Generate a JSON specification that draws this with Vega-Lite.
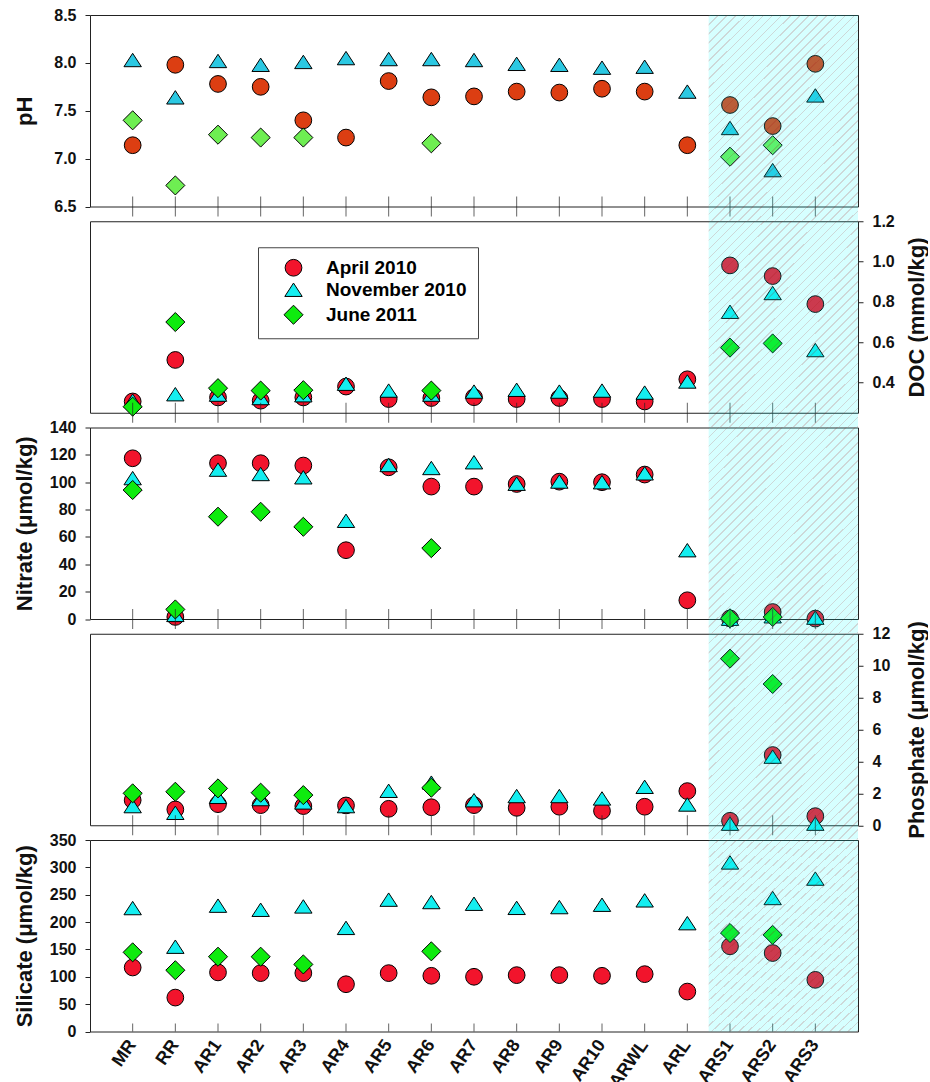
{
  "$schema": "https://vega.github.io/schema/vega-lite/v6.json",
  "padding": {"left": 12, "top": 6, "right": 0, "bottom": 0},
  "background": "white",
  "spacing": 14.25,
  "bounds": "flush",
  "datasets": {
    "sites": [
      {"site": "MR"}, {"site": "RR"}, {"site": "AR1"}, {"site": "AR2"}, {"site": "AR3"}, {"site": "AR4"}, {"site": "AR5"}, {"site": "AR6"}, {"site": "AR7"}, {"site": "AR8"}, {"site": "AR9"}, {"site": "AR10"}, {"site": "ARWL"}, {"site": "ARL"}, {"site": "ARS1"}, {"site": "ARS2"}, {"site": "ARS3"}
    ],
    "obs": [
      {"site": "MR", "campaign": "April 2010", "pH": 7.14, "DOC": 0.306, "nitrate": 117.5, "phosphate": 1.57, "silicate": 117},
      {"site": "RR", "campaign": "April 2010", "pH": 7.98, "DOC": 0.512, "nitrate": 1.5, "phosphate": 0.99, "silicate": 62},
      {"site": "AR1", "campaign": "April 2010", "pH": 7.78, "DOC": 0.326, "nitrate": 113.9, "phosphate": 1.32, "silicate": 108},
      {"site": "AR2", "campaign": "April 2010", "pH": 7.75, "DOC": 0.31, "nitrate": 113.9, "phosphate": 1.26, "silicate": 106.7},
      {"site": "AR3", "campaign": "April 2010", "pH": 7.4, "DOC": 0.326, "nitrate": 112.2, "phosphate": 1.2, "silicate": 106.7},
      {"site": "AR4", "campaign": "April 2010", "pH": 7.22, "DOC": 0.38, "nitrate": 50.3, "phosphate": 1.24, "silicate": 86.4},
      {"site": "AR5", "campaign": "April 2010", "pH": 7.81, "DOC": 0.318, "nitrate": 110.9, "phosphate": 1.03, "silicate": 106.7},
      {"site": "AR6", "campaign": "April 2010", "pH": 7.64, "DOC": 0.323, "nitrate": 96.8, "phosphate": 1.13, "silicate": 101.8},
      {"site": "AR7", "campaign": "April 2010", "pH": 7.65, "DOC": 0.327, "nitrate": 96.8, "phosphate": 1.26, "silicate": 100},
      {"site": "AR8", "campaign": "April 2010", "pH": 7.7, "DOC": 0.318, "nitrate": 98.7, "phosphate": 1.09, "silicate": 103},
      {"site": "AR9", "campaign": "April 2010", "pH": 7.69, "DOC": 0.323, "nitrate": 100.4, "phosphate": 1.16, "silicate": 103},
      {"site": "AR10", "campaign": "April 2010", "pH": 7.73, "DOC": 0.318, "nitrate": 100, "phosphate": 0.9, "silicate": 101.8},
      {"site": "ARWL", "campaign": "April 2010", "pH": 7.7, "DOC": 0.306, "nitrate": 105.6, "phosphate": 1.16, "silicate": 104.8},
      {"site": "ARL", "campaign": "April 2010", "pH": 7.14, "DOC": 0.416, "nitrate": 13.7, "phosphate": 2.14, "silicate": 73},
      {"site": "ARS1", "campaign": "April 2010", "pH": 7.56, "DOC": 0.981, "nitrate": 0.4, "phosphate": 0.28, "silicate": 155.7},
      {"site": "ARS2", "campaign": "April 2010", "pH": 7.34, "DOC": 0.928, "nitrate": 5.1, "phosphate": 4.4, "silicate": 143.4},
      {"site": "ARS3", "campaign": "April 2010", "pH": 7.99, "DOC": 0.789, "nitrate": 0.3, "phosphate": 0.57, "silicate": 94.4},
      {"site": "MR", "campaign": "November 2010", "pH": 8.03, "DOC": 0.31, "nitrate": 103, "phosphate": 1.2, "silicate": 225.6},
      {"site": "RR", "campaign": "November 2010", "pH": 7.64, "DOC": 0.342, "nitrate": 3, "phosphate": 0.78, "silicate": 155},
      {"site": "AR1", "campaign": "November 2010", "pH": 8.02, "DOC": 0.34, "nitrate": 109.2, "phosphate": 1.78, "silicate": 230},
      {"site": "AR2", "campaign": "November 2010", "pH": 7.98, "DOC": 0.323, "nitrate": 106, "phosphate": 1.64, "silicate": 222.5},
      {"site": "AR3", "campaign": "November 2010", "pH": 8.01, "DOC": 0.337, "nitrate": 103.6, "phosphate": 1.43, "silicate": 228.6},
      {"site": "AR4", "campaign": "November 2010", "pH": 8.05, "DOC": 0.394, "nitrate": 71.8, "phosphate": 1.2, "silicate": 189.4},
      {"site": "AR5", "campaign": "November 2010", "pH": 8.04, "DOC": 0.36, "nitrate": 112.6, "phosphate": 2.16, "silicate": 241},
      {"site": "AR6", "campaign": "November 2010", "pH": 8.04, "DOC": 0.34, "nitrate": 110.4, "phosphate": 2.67, "silicate": 236.6},
      {"site": "AR7", "campaign": "November 2010", "pH": 8.03, "DOC": 0.355, "nitrate": 114.6, "phosphate": 1.57, "silicate": 233.5},
      {"site": "AR8", "campaign": "November 2010", "pH": 7.99, "DOC": 0.364, "nitrate": 98.9, "phosphate": 1.83, "silicate": 226},
      {"site": "AR9", "campaign": "November 2010", "pH": 7.98, "DOC": 0.355, "nitrate": 100.5, "phosphate": 1.83, "silicate": 227.4},
      {"site": "AR10", "campaign": "November 2010", "pH": 7.95, "DOC": 0.36, "nitrate": 100, "phosphate": 1.68, "silicate": 231.7},
      {"site": "ARWL", "campaign": "November 2010", "pH": 7.96, "DOC": 0.35, "nitrate": 106.5, "phosphate": 2.41, "silicate": 239.7},
      {"site": "ARL", "campaign": "November 2010", "pH": 7.7, "DOC": 0.405, "nitrate": 50.3, "phosphate": 1.3, "silicate": 198},
      {"site": "ARS1", "campaign": "November 2010", "pH": 7.32, "DOC": 0.751, "nitrate": 0.2, "phosphate": 0.1, "silicate": 309},
      {"site": "ARS2", "campaign": "November 2010", "pH": 6.88, "DOC": 0.844, "nitrate": 2, "phosphate": 4.3, "silicate": 244},
      {"site": "ARS3", "campaign": "November 2010", "pH": 7.66, "DOC": 0.561, "nitrate": 1, "phosphate": 0.1, "silicate": 279.5},
      {"site": "MR", "campaign": "June 2011", "pH": 7.4, "DOC": 0.28, "nitrate": 94.3, "phosphate": 2.0, "silicate": 144.7},
      {"site": "RR", "campaign": "June 2011", "pH": 6.72, "DOC": 0.7, "nitrate": 7, "phosphate": 2.1, "silicate": 112},
      {"site": "AR1", "campaign": "June 2011", "pH": 7.25, "DOC": 0.372, "nitrate": 74.8, "phosphate": 2.31, "silicate": 136.7},
      {"site": "AR2", "campaign": "June 2011", "pH": 7.22, "DOC": 0.36, "nitrate": 78.4, "phosphate": 2.04, "silicate": 136.7},
      {"site": "AR3", "campaign": "June 2011", "pH": 7.22, "DOC": 0.362, "nitrate": 67.4, "phosphate": 1.89, "silicate": 122.6},
      {"site": "AR6", "campaign": "June 2011", "pH": 7.16, "DOC": 0.36, "nitrate": 51.8, "phosphate": 2.35, "silicate": 146.5},
      {"site": "ARS1", "campaign": "June 2011", "pH": 7.02, "DOC": 0.573, "nitrate": 0.5, "phosphate": 10.44, "silicate": 180},
      {"site": "ARS2", "campaign": "June 2011", "pH": 7.14, "DOC": 0.594, "nitrate": 1.5, "phosphate": 8.85, "silicate": 176.5}
    ]
  },
  "vconcat": [
    {
      "width": 768, "height": 191.5,
      "layer": [
        {"data": {"name": "obs"},
         "transform": [{"filter": "isValid(datum.pH)"}],
         "mark": {"type": "point", "filled": true, "stroke": "black", "strokeWidth": 1, "opacity": 1, "size": 280},
         "encoding": {
           "x": {"field": "site", "type": "nominal", "scale": {"type": "band", "domain": ["MR","RR","AR1","AR2","AR3","AR4","AR5","AR6","AR7","AR8","AR9","AR10","ARWL","ARL","ARS1","ARS2","ARS3"], "paddingInner": 0, "paddingOuter": 0.5}, "axis": null},
           "y": {"field": "pH", "type": "quantitative", "scale": {"domain": [6.5, 8.5], "nice": false, "zero": false},
                 "axis": {"orient": "left", "values": [6.5, 7, 7.5, 8, 8.5], "format": ".1f", "labelOverlap": false, "title": "pH", "titleX": -66, "titleY": 95.75, "titleAngle": -90, "titleAlign": "center", "titleBaseline": "middle", "labelPadding": 9, "domain": false}},
           "color": {"field": "campaign", "type": "nominal", "scale": {"domain": ["April 2010", "November 2010", "June 2011"], "range": ["#DC3E12", "#2BC8E2", "#6EEE52"]}, "legend": null},
           "shape": {"field": "campaign", "type": "nominal", "scale": {"domain": ["April 2010", "November 2010", "June 2011"], "range": ["circle", "M0,-0.8L1.04,0.8L-1.04,0.8Z", "M0,-1.14L1.14,0L0,1.14L-1.14,0Z"]}, "legend": null}
         }},
        {"data": {"name": "sites"},
         "mark": {"type": "tick", "orient": "vertical", "size": 20, "thickness": 1, "color": "#222"},
         "encoding": {
           "x": {"field": "site", "type": "nominal", "scale": {"type": "band", "domain": ["MR","RR","AR1","AR2","AR3","AR4","AR5","AR6","AR7","AR8","AR9","AR10","ARWL","ARL","ARS1","ARS2","ARS3"], "paddingInner": 0, "paddingOuter": 0.5}, "axis": null},
           "y": {"datum": 6.5, "type": "quantitative",
                 "axis": {"orient": "left", "values": [6.5, 7, 7.5, 8, 8.5], "format": ".1f", "labelOverlap": false, "title": "pH", "titleX": -66, "titleY": 95.75, "titleAngle": -90, "titleAlign": "center", "titleBaseline": "middle", "labelPadding": 9, "domain": false}}}},
        {"data": {"values": [{"start": "ARS1"}]},
         "mark": {"type": "rect", "y2Offset": 14.25},
         "encoding": {
           "x": {"field": "start", "type": "nominal", "bandPosition": 0, "scale": {"type": "band", "domain": ["MR","RR","AR1","AR2","AR3","AR4","AR5","AR6","AR7","AR8","AR9","AR10","ARWL","ARL","ARS1","ARS2","ARS3"], "paddingInner": 0, "paddingOuter": 0.5}, "axis": null},
           "x2": {"value": "width"},
           "y": {"value": 0}, "y2": {"value": "height"}}}
      ]
    },
    {
      "width": 768, "height": 191.5,
      "layer": [
        {"data": {"name": "obs"},
         "transform": [{"filter": "isValid(datum.DOC)"}],
         "mark": {"type": "point", "filled": true, "stroke": "black", "strokeWidth": 1, "opacity": 1, "size": 280},
         "encoding": {
           "x": {"field": "site", "type": "nominal", "scale": {"type": "band", "domain": ["MR","RR","AR1","AR2","AR3","AR4","AR5","AR6","AR7","AR8","AR9","AR10","ARWL","ARL","ARS1","ARS2","ARS3"], "paddingInner": 0, "paddingOuter": 0.5}, "axis": null},
           "y": {"field": "DOC", "type": "quantitative", "scale": {"domain": [0.25, 1.2], "nice": false, "zero": false},
                 "axis": {"orient": "right", "values": [0.4, 0.6, 0.8, 1.0, 1.2], "format": ".1f", "labelOverlap": false, "title": "DOC (mmol/kg)", "titleX": 58, "titleY": 95.75, "titleAngle": -90, "titleAlign": "center", "titleBaseline": "middle", "labelPadding": 9, "domain": false}},
           "color": {"field": "campaign", "type": "nominal", "scale": {"domain": ["April 2010", "November 2010", "June 2011"], "range": ["#F2142C", "#14EEF0", "#0EEB0E"]},
                     "legend": {"orient": "none", "legendX": 168, "legendY": 26, "title": null, "padding": 11, "symbolOffset": 15, "labelOffset": 23, "rowPadding": 2, "symbolSize": 280, "symbolStrokeColor": "black", "symbolStrokeWidth": 1, "labelFont": "Liberation Sans", "labelFontSize": 19, "labelFontWeight": "bold", "labelColor": "black", "strokeColor": "#444", "fillColor": "white"}},
           "shape": {"field": "campaign", "type": "nominal", "scale": {"domain": ["April 2010", "November 2010", "June 2011"], "range": ["circle", "M0,-0.8L1.04,0.8L-1.04,0.8Z", "M0,-1.14L1.14,0L0,1.14L-1.14,0Z"]}}
         }},
        {"data": {"name": "sites"},
         "mark": {"type": "tick", "orient": "vertical", "size": 20, "thickness": 1, "color": "#222"},
         "encoding": {
           "x": {"field": "site", "type": "nominal", "scale": {"type": "band", "domain": ["MR","RR","AR1","AR2","AR3","AR4","AR5","AR6","AR7","AR8","AR9","AR10","ARWL","ARL","ARS1","ARS2","ARS3"], "paddingInner": 0, "paddingOuter": 0.5}, "axis": null},
           "y": {"datum": 0.25, "type": "quantitative",
                 "axis": {"orient": "right", "values": [0.4, 0.6, 0.8, 1.0, 1.2], "format": ".1f", "labelOverlap": false, "title": "DOC (mmol/kg)", "titleX": 58, "titleY": 95.75, "titleAngle": -90, "titleAlign": "center", "titleBaseline": "middle", "labelPadding": 9, "domain": false}}}},
        {"data": {"values": [{"start": "ARS1"}]},
         "mark": {"type": "rect", "y2Offset": 14.25},
         "encoding": {
           "x": {"field": "start", "type": "nominal", "bandPosition": 0, "scale": {"type": "band", "domain": ["MR","RR","AR1","AR2","AR3","AR4","AR5","AR6","AR7","AR8","AR9","AR10","ARWL","ARL","ARS1","ARS2","ARS3"], "paddingInner": 0, "paddingOuter": 0.5}, "axis": null},
           "x2": {"value": "width"},
           "y": {"value": 0}, "y2": {"value": "height"}}}
      ]
    },
    {
      "width": 768, "height": 191.5,
      "layer": [
        {"data": {"name": "obs"},
         "transform": [{"filter": "isValid(datum.nitrate)"}],
         "mark": {"type": "point", "filled": true, "stroke": "black", "strokeWidth": 1, "opacity": 1, "size": 280},
         "encoding": {
           "x": {"field": "site", "type": "nominal", "scale": {"type": "band", "domain": ["MR","RR","AR1","AR2","AR3","AR4","AR5","AR6","AR7","AR8","AR9","AR10","ARWL","ARL","ARS1","ARS2","ARS3"], "paddingInner": 0, "paddingOuter": 0.5}, "axis": null},
           "y": {"field": "nitrate", "type": "quantitative", "scale": {"domain": [0, 140], "nice": false, "zero": false},
                 "axis": {"orient": "left", "values": [0, 20, 40, 60, 80, 100, 120, 140], "labelOverlap": false, "title": "Nitrate (μmol/kg)", "titleX": -66, "titleY": 95.75, "titleAngle": -90, "titleAlign": "center", "titleBaseline": "middle", "labelPadding": 9, "domain": false}},
           "color": {"field": "campaign", "type": "nominal", "scale": {"domain": ["April 2010", "November 2010", "June 2011"], "range": ["#F2142C", "#14EEF0", "#0EEB0E"]}, "legend": null},
           "shape": {"field": "campaign", "type": "nominal", "scale": {"domain": ["April 2010", "November 2010", "June 2011"], "range": ["circle", "M0,-0.8L1.04,0.8L-1.04,0.8Z", "M0,-1.14L1.14,0L0,1.14L-1.14,0Z"]}, "legend": null}
         }},
        {"data": {"name": "sites"},
         "mark": {"type": "tick", "orient": "vertical", "size": 20, "thickness": 1, "color": "#222"},
         "encoding": {
           "x": {"field": "site", "type": "nominal", "scale": {"type": "band", "domain": ["MR","RR","AR1","AR2","AR3","AR4","AR5","AR6","AR7","AR8","AR9","AR10","ARWL","ARL","ARS1","ARS2","ARS3"], "paddingInner": 0, "paddingOuter": 0.5}, "axis": null},
           "y": {"datum": 0, "type": "quantitative",
                 "axis": {"orient": "left", "values": [0, 20, 40, 60, 80, 100, 120, 140], "labelOverlap": false, "title": "Nitrate (μmol/kg)", "titleX": -66, "titleY": 95.75, "titleAngle": -90, "titleAlign": "center", "titleBaseline": "middle", "labelPadding": 9, "domain": false}}}},
        {"data": {"values": [{"start": "ARS1"}]},
         "mark": {"type": "rect", "y2Offset": 14.25},
         "encoding": {
           "x": {"field": "start", "type": "nominal", "bandPosition": 0, "scale": {"type": "band", "domain": ["MR","RR","AR1","AR2","AR3","AR4","AR5","AR6","AR7","AR8","AR9","AR10","ARWL","ARL","ARS1","ARS2","ARS3"], "paddingInner": 0, "paddingOuter": 0.5}, "axis": null},
           "x2": {"value": "width"},
           "y": {"value": 0}, "y2": {"value": "height"}}}
      ]
    },
    {
      "width": 768, "height": 191.5,
      "layer": [
        {"data": {"name": "obs"},
         "transform": [{"filter": "isValid(datum.phosphate)"}],
         "mark": {"type": "point", "filled": true, "stroke": "black", "strokeWidth": 1, "opacity": 1, "size": 280},
         "encoding": {
           "x": {"field": "site", "type": "nominal", "scale": {"type": "band", "domain": ["MR","RR","AR1","AR2","AR3","AR4","AR5","AR6","AR7","AR8","AR9","AR10","ARWL","ARL","ARS1","ARS2","ARS3"], "paddingInner": 0, "paddingOuter": 0.5}, "axis": null},
           "y": {"field": "phosphate", "type": "quantitative", "scale": {"domain": [0, 12], "nice": false, "zero": false},
                 "axis": {"orient": "right", "values": [0, 2, 4, 6, 8, 10, 12], "labelOverlap": false, "title": "Phosphate (μmol/kg)", "titleX": 58, "titleY": 95.75, "titleAngle": -90, "titleAlign": "center", "titleBaseline": "middle", "labelPadding": 9, "domain": false}},
           "color": {"field": "campaign", "type": "nominal", "scale": {"domain": ["April 2010", "November 2010", "June 2011"], "range": ["#F2142C", "#14EEF0", "#0EEB0E"]}, "legend": null},
           "shape": {"field": "campaign", "type": "nominal", "scale": {"domain": ["April 2010", "November 2010", "June 2011"], "range": ["circle", "M0,-0.8L1.04,0.8L-1.04,0.8Z", "M0,-1.14L1.14,0L0,1.14L-1.14,0Z"]}, "legend": null}
         }},
        {"data": {"name": "sites"},
         "mark": {"type": "tick", "orient": "vertical", "size": 20, "thickness": 1, "color": "#222"},
         "encoding": {
           "x": {"field": "site", "type": "nominal", "scale": {"type": "band", "domain": ["MR","RR","AR1","AR2","AR3","AR4","AR5","AR6","AR7","AR8","AR9","AR10","ARWL","ARL","ARS1","ARS2","ARS3"], "paddingInner": 0, "paddingOuter": 0.5}, "axis": null},
           "y": {"datum": 0, "type": "quantitative",
                 "axis": {"orient": "right", "values": [0, 2, 4, 6, 8, 10, 12], "labelOverlap": false, "title": "Phosphate (μmol/kg)", "titleX": 58, "titleY": 95.75, "titleAngle": -90, "titleAlign": "center", "titleBaseline": "middle", "labelPadding": 9, "domain": false}}}},
        {"data": {"values": [{"start": "ARS1"}]},
         "mark": {"type": "rect", "y2Offset": 14.25},
         "encoding": {
           "x": {"field": "start", "type": "nominal", "bandPosition": 0, "scale": {"type": "band", "domain": ["MR","RR","AR1","AR2","AR3","AR4","AR5","AR6","AR7","AR8","AR9","AR10","ARWL","ARL","ARS1","ARS2","ARS3"], "paddingInner": 0, "paddingOuter": 0.5}, "axis": null},
           "x2": {"value": "width"},
           "y": {"value": 0}, "y2": {"value": "height"}}}
      ]
    },
    {
      "width": 768, "height": 191.5,
      "layer": [
        {"data": {"name": "obs"},
         "transform": [{"filter": "isValid(datum.silicate)"}],
         "mark": {"type": "point", "filled": true, "stroke": "black", "strokeWidth": 1, "opacity": 1, "size": 280},
         "encoding": {
           "x": {"field": "site", "type": "nominal", "scale": {"type": "band", "domain": ["MR","RR","AR1","AR2","AR3","AR4","AR5","AR6","AR7","AR8","AR9","AR10","ARWL","ARL","ARS1","ARS2","ARS3"], "paddingInner": 0, "paddingOuter": 0.5},
                 "axis": {"title": null, "labelAngle": -55, "labelFontSize": 18, "ticks": false, "domain": false, "labelPadding": 10}},
           "y": {"field": "silicate", "type": "quantitative", "scale": {"domain": [0, 350], "nice": false, "zero": false},
                 "axis": {"orient": "left", "values": [0, 50, 100, 150, 200, 250, 300, 350], "labelOverlap": false, "title": "Silicate (μmol/kg)", "titleX": -66, "titleY": 95.75, "titleAngle": -90, "titleAlign": "center", "titleBaseline": "middle", "labelPadding": 9, "domain": false}},
           "color": {"field": "campaign", "type": "nominal", "scale": {"domain": ["April 2010", "November 2010", "June 2011"], "range": ["#F2142C", "#14EEF0", "#0EEB0E"]}, "legend": null},
           "shape": {"field": "campaign", "type": "nominal", "scale": {"domain": ["April 2010", "November 2010", "June 2011"], "range": ["circle", "M0,-0.8L1.04,0.8L-1.04,0.8Z", "M0,-1.14L1.14,0L0,1.14L-1.14,0Z"]}, "legend": null}
         }},
        {"data": {"name": "sites"},
         "mark": {"type": "tick", "orient": "vertical", "size": 8, "thickness": 1, "color": "#222", "yOffset": -4},
         "encoding": {
           "x": {"field": "site", "type": "nominal", "scale": {"type": "band", "domain": ["MR","RR","AR1","AR2","AR3","AR4","AR5","AR6","AR7","AR8","AR9","AR10","ARWL","ARL","ARS1","ARS2","ARS3"], "paddingInner": 0, "paddingOuter": 0.5},
                 "axis": {"title": null, "labelAngle": -55, "labelFontSize": 18, "ticks": false, "domain": false, "labelPadding": 10}},
           "y": {"datum": 0, "type": "quantitative",
                 "axis": {"orient": "left", "values": [0, 50, 100, 150, 200, 250, 300, 350], "labelOverlap": false, "title": "Silicate (μmol/kg)", "titleX": -66, "titleY": 95.75, "titleAngle": -90, "titleAlign": "center", "titleBaseline": "middle", "labelPadding": 9, "domain": false}}}},
        {"data": {"values": [{"start": "ARS1"}]},
         "mark": {"type": "rect"},
         "encoding": {
           "x": {"field": "start", "type": "nominal", "bandPosition": 0, "scale": {"type": "band", "domain": ["MR","RR","AR1","AR2","AR3","AR4","AR5","AR6","AR7","AR8","AR9","AR10","ARWL","ARL","ARS1","ARS2","ARS3"], "paddingInner": 0, "paddingOuter": 0.5},
                 "axis": {"title": null, "labelAngle": -55, "labelFontSize": 18, "ticks": false, "domain": false, "labelPadding": 10}},
           "x2": {"value": "width"},
           "y": {"value": 0}, "y2": {"value": "height"}}}
      ]
    }
  ],
  "resolve": {"scale": {"y": "independent", "color": "independent", "shape": "independent"}, "axis": {"y": "independent"}, "legend": {"color": "independent", "shape": "independent"}},
  "config": {
    "font": "Liberation Sans",
    "view": {"stroke": "#222", "strokeWidth": 1},
    "rect": {"opacity": 1, "fill": {"gradient": "linear", "x1": 0, "y1": 0, "x2": 1, "y2": 1.387, "stops": [
      {"offset": 0, "color": "rgba(90,125,125,0.3)"}, {"offset": 0.0035, "color": "rgba(90,125,125,0.3)"}, {"offset": 0.0035, "color": "rgba(0,255,255,0.16)"}, {"offset": 0.0208, "color": "rgba(0,255,255,0.16)"},
      {"offset": 0.0208, "color": "rgba(90,125,125,0.3)"}, {"offset": 0.0243, "color": "rgba(90,125,125,0.3)"}, {"offset": 0.0243, "color": "rgba(0,255,255,0.16)"}, {"offset": 0.0417, "color": "rgba(0,255,255,0.16)"},
      {"offset": 0.0417, "color": "rgba(90,125,125,0.3)"}, {"offset": 0.0452, "color": "rgba(90,125,125,0.3)"}, {"offset": 0.0452, "color": "rgba(0,255,255,0.16)"}, {"offset": 0.0625, "color": "rgba(0,255,255,0.16)"},
      {"offset": 0.0625, "color": "rgba(90,125,125,0.3)"}, {"offset": 0.066, "color": "rgba(90,125,125,0.3)"}, {"offset": 0.066, "color": "rgba(0,255,255,0.16)"}, {"offset": 0.0833, "color": "rgba(0,255,255,0.16)"},
      {"offset": 0.0833, "color": "rgba(90,125,125,0.3)"}, {"offset": 0.0868, "color": "rgba(90,125,125,0.3)"}, {"offset": 0.0868, "color": "rgba(0,255,255,0.16)"}, {"offset": 0.1042, "color": "rgba(0,255,255,0.16)"},
      {"offset": 0.1042, "color": "rgba(90,125,125,0.3)"}, {"offset": 0.1077, "color": "rgba(90,125,125,0.3)"}, {"offset": 0.1077, "color": "rgba(0,255,255,0.16)"}, {"offset": 0.125, "color": "rgba(0,255,255,0.16)"},
      {"offset": 0.125, "color": "rgba(90,125,125,0.3)"}, {"offset": 0.1285, "color": "rgba(90,125,125,0.3)"}, {"offset": 0.1285, "color": "rgba(0,255,255,0.16)"}, {"offset": 0.1458, "color": "rgba(0,255,255,0.16)"},
      {"offset": 0.1458, "color": "rgba(90,125,125,0.3)"}, {"offset": 0.1493, "color": "rgba(90,125,125,0.3)"}, {"offset": 0.1493, "color": "rgba(0,255,255,0.16)"}, {"offset": 0.1667, "color": "rgba(0,255,255,0.16)"},
      {"offset": 0.1667, "color": "rgba(90,125,125,0.3)"}, {"offset": 0.1702, "color": "rgba(90,125,125,0.3)"}, {"offset": 0.1702, "color": "rgba(0,255,255,0.16)"}, {"offset": 0.1875, "color": "rgba(0,255,255,0.16)"},
      {"offset": 0.1875, "color": "rgba(90,125,125,0.3)"}, {"offset": 0.191, "color": "rgba(90,125,125,0.3)"}, {"offset": 0.191, "color": "rgba(0,255,255,0.16)"}, {"offset": 0.2083, "color": "rgba(0,255,255,0.16)"},
      {"offset": 0.2083, "color": "rgba(90,125,125,0.3)"}, {"offset": 0.2118, "color": "rgba(90,125,125,0.3)"}, {"offset": 0.2118, "color": "rgba(0,255,255,0.16)"}, {"offset": 0.2292, "color": "rgba(0,255,255,0.16)"},
      {"offset": 0.2292, "color": "rgba(90,125,125,0.3)"}, {"offset": 0.2327, "color": "rgba(90,125,125,0.3)"}, {"offset": 0.2327, "color": "rgba(0,255,255,0.16)"}, {"offset": 0.25, "color": "rgba(0,255,255,0.16)"},
      {"offset": 0.25, "color": "rgba(90,125,125,0.3)"}, {"offset": 0.2535, "color": "rgba(90,125,125,0.3)"}, {"offset": 0.2535, "color": "rgba(0,255,255,0.16)"}, {"offset": 0.2708, "color": "rgba(0,255,255,0.16)"},
      {"offset": 0.2708, "color": "rgba(90,125,125,0.3)"}, {"offset": 0.2743, "color": "rgba(90,125,125,0.3)"}, {"offset": 0.2743, "color": "rgba(0,255,255,0.16)"}, {"offset": 0.2917, "color": "rgba(0,255,255,0.16)"},
      {"offset": 0.2917, "color": "rgba(90,125,125,0.3)"}, {"offset": 0.2952, "color": "rgba(90,125,125,0.3)"}, {"offset": 0.2952, "color": "rgba(0,255,255,0.16)"}, {"offset": 0.3125, "color": "rgba(0,255,255,0.16)"},
      {"offset": 0.3125, "color": "rgba(90,125,125,0.3)"}, {"offset": 0.316, "color": "rgba(90,125,125,0.3)"}, {"offset": 0.316, "color": "rgba(0,255,255,0.16)"}, {"offset": 0.3333, "color": "rgba(0,255,255,0.16)"},
      {"offset": 0.3333, "color": "rgba(90,125,125,0.3)"}, {"offset": 0.3368, "color": "rgba(90,125,125,0.3)"}, {"offset": 0.3368, "color": "rgba(0,255,255,0.16)"}, {"offset": 0.3542, "color": "rgba(0,255,255,0.16)"},
      {"offset": 0.3542, "color": "rgba(90,125,125,0.3)"}, {"offset": 0.3577, "color": "rgba(90,125,125,0.3)"}, {"offset": 0.3577, "color": "rgba(0,255,255,0.16)"}, {"offset": 0.375, "color": "rgba(0,255,255,0.16)"},
      {"offset": 0.375, "color": "rgba(90,125,125,0.3)"}, {"offset": 0.3785, "color": "rgba(90,125,125,0.3)"}, {"offset": 0.3785, "color": "rgba(0,255,255,0.16)"}, {"offset": 0.3958, "color": "rgba(0,255,255,0.16)"},
      {"offset": 0.3958, "color": "rgba(90,125,125,0.3)"}, {"offset": 0.3993, "color": "rgba(90,125,125,0.3)"}, {"offset": 0.3993, "color": "rgba(0,255,255,0.16)"}, {"offset": 0.4167, "color": "rgba(0,255,255,0.16)"},
      {"offset": 0.4167, "color": "rgba(90,125,125,0.3)"}, {"offset": 0.4202, "color": "rgba(90,125,125,0.3)"}, {"offset": 0.4202, "color": "rgba(0,255,255,0.16)"}, {"offset": 0.4375, "color": "rgba(0,255,255,0.16)"},
      {"offset": 0.4375, "color": "rgba(90,125,125,0.3)"}, {"offset": 0.441, "color": "rgba(90,125,125,0.3)"}, {"offset": 0.441, "color": "rgba(0,255,255,0.16)"}, {"offset": 0.4583, "color": "rgba(0,255,255,0.16)"},
      {"offset": 0.4583, "color": "rgba(90,125,125,0.3)"}, {"offset": 0.4618, "color": "rgba(90,125,125,0.3)"}, {"offset": 0.4618, "color": "rgba(0,255,255,0.16)"}, {"offset": 0.4792, "color": "rgba(0,255,255,0.16)"},
      {"offset": 0.4792, "color": "rgba(90,125,125,0.3)"}, {"offset": 0.4827, "color": "rgba(90,125,125,0.3)"}, {"offset": 0.4827, "color": "rgba(0,255,255,0.16)"}, {"offset": 0.5, "color": "rgba(0,255,255,0.16)"},
      {"offset": 0.5, "color": "rgba(90,125,125,0.3)"}, {"offset": 0.5035, "color": "rgba(90,125,125,0.3)"}, {"offset": 0.5035, "color": "rgba(0,255,255,0.16)"}, {"offset": 0.5208, "color": "rgba(0,255,255,0.16)"},
      {"offset": 0.5208, "color": "rgba(90,125,125,0.3)"}, {"offset": 0.5243, "color": "rgba(90,125,125,0.3)"}, {"offset": 0.5243, "color": "rgba(0,255,255,0.16)"}, {"offset": 0.5417, "color": "rgba(0,255,255,0.16)"},
      {"offset": 0.5417, "color": "rgba(90,125,125,0.3)"}, {"offset": 0.5452, "color": "rgba(90,125,125,0.3)"}, {"offset": 0.5452, "color": "rgba(0,255,255,0.16)"}, {"offset": 0.5625, "color": "rgba(0,255,255,0.16)"},
      {"offset": 0.5625, "color": "rgba(90,125,125,0.3)"}, {"offset": 0.566, "color": "rgba(90,125,125,0.3)"}, {"offset": 0.566, "color": "rgba(0,255,255,0.16)"}, {"offset": 0.5833, "color": "rgba(0,255,255,0.16)"},
      {"offset": 0.5833, "color": "rgba(90,125,125,0.3)"}, {"offset": 0.5868, "color": "rgba(90,125,125,0.3)"}, {"offset": 0.5868, "color": "rgba(0,255,255,0.16)"}, {"offset": 0.6042, "color": "rgba(0,255,255,0.16)"},
      {"offset": 0.6042, "color": "rgba(90,125,125,0.3)"}, {"offset": 0.6077, "color": "rgba(90,125,125,0.3)"}, {"offset": 0.6077, "color": "rgba(0,255,255,0.16)"}, {"offset": 0.625, "color": "rgba(0,255,255,0.16)"},
      {"offset": 0.625, "color": "rgba(90,125,125,0.3)"}, {"offset": 0.6285, "color": "rgba(90,125,125,0.3)"}, {"offset": 0.6285, "color": "rgba(0,255,255,0.16)"}, {"offset": 0.6458, "color": "rgba(0,255,255,0.16)"},
      {"offset": 0.6458, "color": "rgba(90,125,125,0.3)"}, {"offset": 0.6493, "color": "rgba(90,125,125,0.3)"}, {"offset": 0.6493, "color": "rgba(0,255,255,0.16)"}, {"offset": 0.6667, "color": "rgba(0,255,255,0.16)"},
      {"offset": 0.6667, "color": "rgba(90,125,125,0.3)"}, {"offset": 0.6702, "color": "rgba(90,125,125,0.3)"}, {"offset": 0.6702, "color": "rgba(0,255,255,0.16)"}, {"offset": 0.6875, "color": "rgba(0,255,255,0.16)"},
      {"offset": 0.6875, "color": "rgba(90,125,125,0.3)"}, {"offset": 0.691, "color": "rgba(90,125,125,0.3)"}, {"offset": 0.691, "color": "rgba(0,255,255,0.16)"}, {"offset": 0.7083, "color": "rgba(0,255,255,0.16)"},
      {"offset": 0.7083, "color": "rgba(90,125,125,0.3)"}, {"offset": 0.7118, "color": "rgba(90,125,125,0.3)"}, {"offset": 0.7118, "color": "rgba(0,255,255,0.16)"}, {"offset": 0.7292, "color": "rgba(0,255,255,0.16)"},
      {"offset": 0.7292, "color": "rgba(90,125,125,0.3)"}, {"offset": 0.7327, "color": "rgba(90,125,125,0.3)"}, {"offset": 0.7327, "color": "rgba(0,255,255,0.16)"}, {"offset": 0.75, "color": "rgba(0,255,255,0.16)"},
      {"offset": 0.75, "color": "rgba(90,125,125,0.3)"}, {"offset": 0.7535, "color": "rgba(90,125,125,0.3)"}, {"offset": 0.7535, "color": "rgba(0,255,255,0.16)"}, {"offset": 0.7708, "color": "rgba(0,255,255,0.16)"},
      {"offset": 0.7708, "color": "rgba(90,125,125,0.3)"}, {"offset": 0.7743, "color": "rgba(90,125,125,0.3)"}, {"offset": 0.7743, "color": "rgba(0,255,255,0.16)"}, {"offset": 0.7917, "color": "rgba(0,255,255,0.16)"},
      {"offset": 0.7917, "color": "rgba(90,125,125,0.3)"}, {"offset": 0.7952, "color": "rgba(90,125,125,0.3)"}, {"offset": 0.7952, "color": "rgba(0,255,255,0.16)"}, {"offset": 0.8125, "color": "rgba(0,255,255,0.16)"},
      {"offset": 0.8125, "color": "rgba(90,125,125,0.3)"}, {"offset": 0.816, "color": "rgba(90,125,125,0.3)"}, {"offset": 0.816, "color": "rgba(0,255,255,0.16)"}, {"offset": 0.8333, "color": "rgba(0,255,255,0.16)"},
      {"offset": 0.8333, "color": "rgba(90,125,125,0.3)"}, {"offset": 0.8368, "color": "rgba(90,125,125,0.3)"}, {"offset": 0.8368, "color": "rgba(0,255,255,0.16)"}, {"offset": 0.8542, "color": "rgba(0,255,255,0.16)"},
      {"offset": 0.8542, "color": "rgba(90,125,125,0.3)"}, {"offset": 0.8577, "color": "rgba(90,125,125,0.3)"}, {"offset": 0.8577, "color": "rgba(0,255,255,0.16)"}, {"offset": 0.875, "color": "rgba(0,255,255,0.16)"},
      {"offset": 0.875, "color": "rgba(90,125,125,0.3)"}, {"offset": 0.8785, "color": "rgba(90,125,125,0.3)"}, {"offset": 0.8785, "color": "rgba(0,255,255,0.16)"}, {"offset": 1, "color": "rgba(0,255,255,0.16)"}
    ]}},
    "axis": {"labelFont": "Liberation Sans", "labelFontWeight": "bold", "labelFontSize": 16, "labelColor": "#111", "labelOverlap": false, "titleFont": "Liberation Sans", "titleFontWeight": "bold", "titleFontSize": 22, "titleColor": "#111", "domainColor": "#222", "tickColor": "#222", "grid": false, "tickSize": 5}
  }
}
